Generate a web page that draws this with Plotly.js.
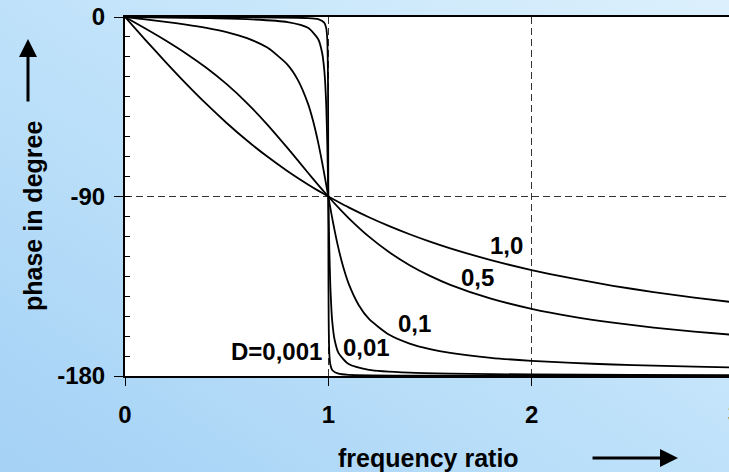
<!DOCTYPE html>
<html>
<head>
<meta charset="utf-8">
<script src="https://cdn.plot.ly/plotly-3.0.1.min.js"></script>
<style>
  html, body { margin: 0; padding: 0; }
  body { width: 729px; height: 472px; overflow: hidden;
         background: linear-gradient(to top right, #a4d1f5 0%, #bfe2fa 50%, #dcf0fc 100%); }
  #chart { width: 729px; height: 472px; }
</style>
</head>
<body>
<div id="chart"></div>
<script>
// Frequency ratio samples and phase (degree)
const freqA = [0, 0.1, 0.2, 0.3, 0.4, 0.5, 0.6, 0.7, 0.8, 0.9, 0.95, 1.0, 1.05, 1.1, 1.2, 1.3, 1.4, 1.5, 1.6, 1.8, 2.0, 2.2, 2.4, 2.6, 2.8, 3.0];
const phaseD100 = [0, -11.42, -22.62, -33.40, -43.60, -53.13, -61.93, -69.98, -77.32, -83.97, -87.06, -90, -92.79, -95.45, -100.39, -104.86, -108.92, -112.62, -115.99, -121.89, -126.87, -131.11, -134.76, -137.92, -140.69, -143.13];
const phaseD050 = [0, -5.77, -11.77, -18.25, -25.46, -33.69, -43.15, -53.92, -65.77, -78.08, -84.14, -90, -95.58, -100.81, -110.14, -117.96, -124.44, -129.81, -134.27, -141.21, -146.31, -150.19, -153.24, -155.71, -157.74, -159.44];

const freqB = [0, 0.1, 0.2, 0.3, 0.4, 0.5, 0.6, 0.7, 0.8, 0.85, 0.9, 0.925, 0.95, 0.97, 0.98, 0.99, 1.0, 1.01, 1.02, 1.03, 1.05, 1.075, 1.1, 1.15, 1.2, 1.3, 1.4, 1.5, 1.6, 1.8, 2.0, 2.2, 2.4, 2.6, 2.8, 3.0];
const phaseD010 = [0, -1.16, -2.39, -3.77, -5.44, -7.59, -10.62, -15.35, -23.96, -31.49, -43.45, -52.03, -62.84, -73.06, -78.58, -84.26, -90, -95.68, -101.20, -106.47, -116.02, -125.90, -133.67, -144.50, -151.39, -159.35, -163.74, -166.50, -168.41, -170.87, -172.41, -173.46, -174.24, -174.84, -175.32, -175.71];

const freqC = [0, 0.2, 0.4, 0.6, 0.8, 0.9, 0.95, 0.97, 0.98, 0.985, 0.99, 0.995, 1.0, 1.005, 1.01, 1.015, 1.02, 1.03, 1.05, 1.1, 1.2, 1.4, 1.6, 2.0, 2.5, 3.0];
const phaseD001 = [0, -0.24, -0.55, -1.07, -2.54, -5.41, -11.03, -18.17, -26.33, -33.49, -44.86, -63.38, -90, -116.51, -134.86, -146.11, -153.21, -161.31, -168.42, -174.02, -176.88, -178.33, -178.82, -179.24, -179.45, -179.57];

const freqD = [0, 0.5, 0.9, 0.95, 0.98, 0.99, 0.995, 0.998, 0.999, 0.9995, 1.0, 1.0005, 1.001, 1.002, 1.005, 1.01, 1.02, 1.05, 1.1, 1.5, 2.0, 3.0];
const phaseD0001 = [0, -0.08, -0.54, -1.12, -2.83, -5.68, -11.28, -26.54, -44.99, -63.43, -90, -116.56, -134.99, -153.41, -168.66, -174.26, -177.11, -178.83, -179.40, -179.86, -179.92, -179.96];

// Curve labels
const labelTexts = ['1,0', '0,5', '0,1', '0,01', 'D=0,001'];
const labelX = [1.875, 1.733, 1.425, 1.190, 0.743];
const labelY = [-114.5, -130.5, -153.5, -165.5, -167.5];

const xTickVals = [0, 1, 2];
const xTickText = ['0', '1', '2'];
const yTickVals = [-180, -90, 0];
const yTickText = ['-180', '-90', '0'];

const lineStyle = { color: '#000', width: 1.8, shape: 'spline', smoothing: 0.6 };
const series = [
  [freqA, phaseD100], [freqA, phaseD050], [freqB, phaseD010], [freqC, phaseD001], [freqD, phaseD0001]
];
const traces = series.map(s => ({
  x: s[0], y: s[1], type: 'scatter', mode: 'lines', line: lineStyle, hoverinfo: 'skip'
}));

const FONT = 'Liberation Sans, Arial, Helvetica, sans-serif';
const annotations = labelTexts.map((t, i) => ({
  x: labelX[i], y: labelY[i], xref: 'x', yref: 'y', text: t, showarrow: false,
  xanchor: 'center', yanchor: 'middle',
  font: { family: FONT, size: 24, color: '#000', weight: 'bold' }
}));

// axis titles
annotations.push({
  x: -0.1523, y: 0.4457, xref: 'paper', yref: 'paper', text: 'phase in degree', textangle: -90,
  xanchor: 'center', yanchor: 'middle',
  showarrow: false, font: { family: FONT, size: 25, color: '#000', weight: 'bold' }
});
annotations.push({
  x: 0.5033, y: -0.2284, xref: 'paper', yref: 'paper', text: 'frequency ratio',
  xanchor: 'center', yanchor: 'middle',
  showarrow: false, font: { family: FONT, size: 25, color: '#000', weight: 'bold' }
});
// partially visible tick label at the right edge
annotations.push({
  x: 1.0083, y: -0.1031, xref: 'paper', yref: 'paper', text: '3', showarrow: false,
  xanchor: 'center', yanchor: 'middle',
  font: { family: FONT, size: 24, color: '#000', weight: 'bold' }
});
// arrows
annotations.push({
  x: -0.1606, y: 0.9387, xref: 'paper', yref: 'paper', text: '', showarrow: true,
  ax: 0, ay: 64, arrowhead: 2, arrowsize: 1.2, arrowwidth: 3, arrowcolor: '#000'
});
annotations.push({
  x: 0.9156, y: -0.2284, xref: 'paper', yref: 'paper', text: '', showarrow: true,
  ax: -87, ay: 0, arrowhead: 2, arrowsize: 1.2, arrowwidth: 3, arrowcolor: '#000'
});

const layout = {
  width: 729, height: 472,
  margin: { l: 125, r: 0, t: 17, b: 96, pad: 0 },
  paper_bgcolor: 'rgba(0,0,0,0)',
  plot_bgcolor: '#ffffff',
  showlegend: false,
  xaxis: {
    range: [0, 2.971], tickvals: xTickVals, ticktext: xTickText,
    showline: true, mirror: true, linecolor: '#000', linewidth: 2,
    ticks: 'outside', ticklen: 8, tickwidth: 1, tickcolor: '#000',
    ticklabelstandoff: 8,
    showgrid: true, gridcolor: '#333', gridwidth: 1, griddash: '7px,4px',
    zeroline: false, fixedrange: true,
    tickfont: { family: FONT, size: 24, color: '#000', weight: 'bold' }
  },
  yaxis: {
    range: [-180, 0], tickvals: yTickVals, ticktext: yTickText,
    showline: true, linecolor: '#000', linewidth: 2,
    ticks: 'outside', ticklen: 9, tickwidth: 1, tickcolor: '#000',
    ticklabelstandoff: 4,
    minor: { dtick: 10, ticks: 'inside', ticklen: 5, tickwidth: 1, tickcolor: '#000', showgrid: false },
    showgrid: true, gridcolor: '#333', gridwidth: 1, griddash: '7px,4px',
    zeroline: false, fixedrange: true,
    tickfont: { family: FONT, size: 24, color: '#000', weight: 'bold' }
  },
  annotations: annotations
};

Plotly.newPlot('chart', traces, layout, { displayModeBar: false, staticPlot: true });
</script>
</body>
</html>
